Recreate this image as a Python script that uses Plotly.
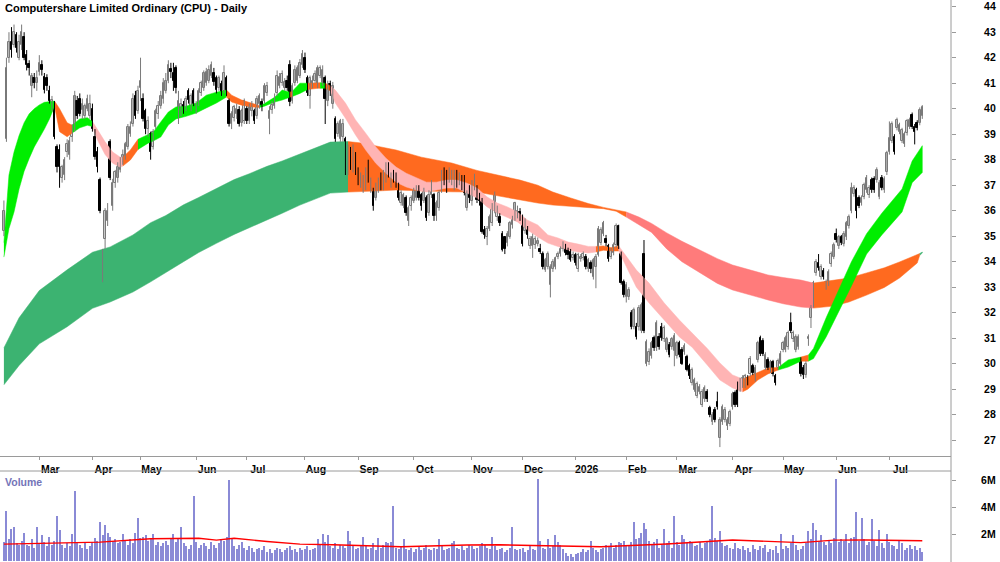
import pandas as pd
import plotly.graph_objects as go

TITLE = "Computershare Limited Ordinary (CPU) - Daily"
START_DATE = "2025-02-11"
END_DATE = "2026-07-20"
HOLIDAYS = ["2025-04-18", "2025-04-21", "2025-04-25", "2025-06-09", "2025-12-25", "2025-12-26",
            "2026-01-01", "2026-01-26", "2026-04-03", "2026-04-06", "2026-06-08"]
MONTH_LABELS = ["Mar", "Apr", "May", "Jun", "Jul", "Aug", "Sep", "Oct", "Nov", "Dec",
                "2026", "Feb", "Mar", "Apr", "May", "Jun", "Jul"]
PRICE_TICKS = [27, 28, 29, 30, 31, 32, 33, 34, 35, 36, 37, 38, 39, 40, 41, 42, 43, 44]
VOLUME_TICKS = [2, 4, 6]
VOLUME_TICK_LABELS = ["2M", "4M", "6M"]

OPEN = [
    35.2, 38.8, 42.0, 42.6, 42.5, 42.9, 42.0, 42.5, 42.8, 42.1,
    41.75, 40.9, 41.2, 41.0, 41.45, 41.7, 41.25, 41.2, 40.7, 40.0,
    40.2, 38.5, 38.4, 37.3, 37.4, 38.3, 38.2, 38.9, 39.2, 40.3,
    40.4, 39.95, 39.7, 40.0, 39.7, 40.0, 38.9, 38.3, 37.2, 33.5,
    34.9, 35.6, 38.7, 36.2, 37.1, 37.3, 37.6, 37.9, 38.1, 38.5,
    39.0, 39.4, 40.5, 39.9, 40.8, 40.4, 39.9, 39.2, 39.0, 38.5,
    39.3, 39.8, 40.1, 40.4, 40.7, 41.1, 41.55, 41.4, 41.6, 39.8,
    39.9, 40.15, 40.0, 40.7, 40.05, 40.7, 40.0, 40.2, 40.6, 40.8,
    41.0, 41.1, 41.3, 41.4, 41.2, 40.8, 40.95, 40.7, 41.2, 40.3,
    39.4, 39.65, 39.8, 39.95, 39.45, 39.5, 40.0, 39.5, 39.9, 39.9,
    39.7, 40.2, 40.25, 40.3, 40.6, 39.6, 39.95, 40.1, 40.6, 40.9,
    41.0, 40.8, 41.1, 41.7, 40.3, 41.0, 41.1, 41.3, 41.7, 42.0,
    41.2, 40.5, 40.9, 41.1, 40.9, 41.3, 41.0, 41.2, 40.3, 40.95,
    40.2, 39.6, 39.0, 38.8, 38.9, 38.8, 37.6, 38.3, 37.7, 38.1,
    37.5, 37.0, 36.9, 36.9, 37.85, 36.8, 36.8, 36.5, 36.8, 37.4,
    36.9, 37.2, 37.7, 37.0, 37.5, 37.4, 37.0, 36.3, 36.2, 36.5,
    35.6, 36.2, 36.4, 36.5, 36.85, 36.6, 36.4, 36.5, 35.9, 36.6,
    36.6, 35.8, 36.1, 36.8, 37.5, 37.4, 37.2, 37.1, 36.9, 37.4,
    37.2, 37.3, 37.3, 36.1, 36.9, 36.4, 36.9, 36.93, 36.5, 36.42,
    35.25, 34.95, 35.3, 35.5, 36.0, 35.75, 35.75, 35.1, 34.95, 34.75,
    34.95, 35.45, 35.7, 35.85, 35.95, 35.75, 35.2, 35.25, 34.6, 34.6,
    34.65, 34.7, 34.5, 34.3, 33.67, 33.8, 33.1, 33.7, 33.8, 34.2,
    34.3, 34.5, 34.6, 34.45, 34.4, 34.15, 34.25, 33.7, 34.1, 34.15,
    34.2, 33.7, 33.95, 33.4, 33.8, 34.25, 34.75, 35.1, 34.9, 34.6,
    34.2, 34.35, 34.65, 35.4, 34.3, 33.2, 32.6, 32.6, 32.0, 31.45,
    31.45, 31.45, 31.3, 34.3, 30.0, 30.05, 30.3, 31.0, 30.6, 31.05,
    31.45, 30.95, 30.55, 30.75, 30.65, 30.5, 30.3, 30.8, 30.55, 30.45,
    30.25, 29.9, 29.25, 28.97, 28.75, 28.9, 28.4, 28.6, 28.9, 28.25,
    27.7, 28.2, 28.5, 27.1, 27.7, 27.8, 27.55, 27.65, 28.3, 28.85,
    29.2, 28.97, 29.15, 29.15, 29.45, 29.6, 29.9, 29.4, 30.15, 31.0,
    30.9, 29.85, 30.15, 29.75, 30.05, 29.5, 29.85, 30.0, 30.55, 30.55,
    30.65, 31.6, 30.95, 30.55, 30.65, 30.15, 29.85, 29.55, 30.95, 31.8,
    32.3, 33.55, 33.95, 33.4, 33.65, 33.0, 33.15, 33.9, 34.2, 35.1,
    34.6, 34.95, 34.7, 34.95, 35.4, 36.0, 36.65, 36.8, 36.5, 36.3,
    36.55, 36.8, 36.6, 37.2, 37.25, 37.2, 36.55, 37.3, 36.8, 37.5,
    38.3, 38.75, 38.9, 39.25, 39.1, 38.75, 38.6, 39.05, 39.3, 39.75,
    39.3, 39.45, 39.45, 39.7,
]
HIGH = [
    36.4, 42.0, 43.0, 43.2, 43.3, 43.0, 42.9, 43.3, 43.0, 42.3,
    41.9, 41.4, 41.4, 41.5, 42.1, 41.9, 41.4, 41.35, 40.9, 40.5,
    40.3, 38.6, 38.6, 37.8, 38.1, 38.8, 38.9, 39.4, 40.7, 40.5,
    40.6, 40.4, 40.2, 40.55, 40.55, 40.2, 39.2, 38.5, 37.3, 34.5,
    36.1, 36.3, 38.8, 37.25, 37.6, 37.9, 38.1, 38.4, 38.7, 39.4,
    39.5, 40.6, 40.7, 40.9, 42.0, 40.6, 40.0, 39.7, 39.1, 39.2,
    40.0, 40.3, 40.7, 41.2, 41.4, 41.9, 41.8, 41.8, 41.7, 40.7,
    40.4, 40.3, 40.5, 40.8, 40.6, 40.8, 40.3, 40.8, 41.1, 41.5,
    41.6, 41.7, 41.85, 41.6, 41.3, 41.3, 41.1, 41.7, 41.3, 40.4,
    39.9, 40.15, 40.2, 40.1, 40.0, 40.4, 40.1, 40.2, 40.3, 40.0,
    40.5, 40.6, 40.4, 41.0, 41.05, 40.1, 40.3, 40.6, 41.5, 41.4,
    41.5, 41.2, 41.3, 41.9, 41.0, 41.7, 41.7, 41.95, 42.3, 42.2,
    41.3, 41.3, 41.3, 41.5, 41.7, 41.7, 41.7, 41.3, 41.1, 41.1,
    41.05, 39.7, 39.5, 39.6, 39.6, 38.9, 38.6, 38.5, 38.6, 38.3,
    37.7, 37.5, 37.4, 37.7, 38.0, 37.3, 36.9, 37.1, 37.3, 37.5,
    37.6, 37.9, 37.9, 37.5, 37.6, 37.5, 37.1, 36.8, 36.7, 36.6,
    36.2, 36.6, 36.9, 37.0, 37.0, 36.7, 36.9, 36.6, 36.8, 37.2,
    36.7, 36.4, 36.8, 37.6, 37.7, 37.6, 37.7, 37.6, 37.6, 37.6,
    37.5, 37.4, 37.4, 36.8, 37.0, 37.2, 37.45, 37.0, 36.7, 36.5,
    35.4, 35.4, 35.85, 36.3, 36.75, 36.2, 35.9, 35.2, 35.0, 35.2,
    35.6, 35.8, 36.35, 36.2, 36.1, 35.85, 35.7, 35.4, 35.0, 35.1,
    35.0, 34.95, 34.7, 34.4, 34.15, 34.4, 33.9, 34.1, 34.2, 34.4,
    34.6, 34.8, 34.7, 34.55, 34.5, 34.4, 34.35, 34.35, 34.3, 34.4,
    34.3, 34.15, 34.05, 34.15, 34.3, 35.4, 35.35, 35.6, 35.05, 34.7,
    34.55, 34.75, 35.5, 35.45, 34.4, 33.3, 33.2, 33.0, 32.1, 32.2,
    31.6, 32.3, 32.4, 34.85, 30.95, 30.6, 30.9, 31.1, 31.7, 31.2,
    31.6, 31.5, 31.05, 30.85, 31.05, 31.2, 30.9, 30.9, 30.65, 30.8,
    30.35, 30.0, 29.85, 29.45, 29.3, 29.2, 29.0, 29.15, 29.0, 28.35,
    28.1, 28.3, 28.9, 27.9, 28.4, 28.3, 27.9, 28.2, 28.9, 28.95,
    29.3, 29.45, 29.55, 29.6, 29.55, 30.3, 30.0, 29.95, 30.9, 31.1,
    31.0, 30.45, 30.25, 30.15, 30.15, 29.6, 30.2, 30.5, 30.9, 31.1,
    31.3, 32.0, 31.3, 31.15, 31.15, 30.25, 29.95, 30.1, 31.15, 32.3,
    33.25, 34.1, 34.3, 33.9, 33.75, 33.3, 33.7, 34.4, 34.75, 35.3,
    35.05, 35.05, 35.2, 35.6, 35.85, 37.1, 37.0, 36.9, 36.6, 36.6,
    37.1, 37.4, 37.0, 37.3, 37.35, 37.7, 37.2, 37.4, 37.35, 38.35,
    39.5, 39.5, 39.0, 39.65, 39.45, 39.25, 39.1, 39.6, 39.65, 39.85,
    39.4, 39.55, 40.05, 40.14,
]
LOW = [
    35.0, 38.7, 41.8, 42.0, 42.4, 42.2, 41.9, 42.3, 41.9, 41.5,
    41.3, 40.45, 40.8, 40.7, 41.3, 41.3, 40.6, 40.7, 40.2, 39.9,
    38.8, 37.5, 36.9, 37.1, 37.2, 38.1, 38.0, 38.7, 39.1, 39.6,
    39.7, 39.6, 39.6, 39.9, 39.6, 39.1, 38.0, 37.5, 35.9, 33.2,
    34.5, 35.4, 37.2, 36.0, 36.9, 37.1, 37.5, 37.8, 38.0, 38.4,
    38.9, 39.3, 39.6, 39.8, 40.3, 39.5, 39.0, 38.9, 38.0, 38.4,
    39.2, 39.6, 40.0, 40.2, 40.6, 41.0, 41.2, 40.7, 40.6, 39.4,
    39.7, 39.8, 39.9, 40.2, 39.9, 40.1, 39.8, 40.1, 40.5, 40.7,
    40.9, 41.0, 41.2, 40.9, 40.6, 40.7, 40.5, 40.6, 40.5, 39.3,
    39.2, 39.5, 39.6, 39.3, 39.3, 39.4, 39.4, 39.4, 39.7, 39.4,
    39.6, 40.0, 39.9, 40.2, 40.5, 39.0, 39.8, 40.0, 40.5, 40.8,
    40.9, 40.7, 40.7, 40.1, 40.2, 40.9, 41.0, 41.2, 41.6, 41.4,
    40.5, 40.0, 40.8, 41.0, 40.8, 41.2, 40.9, 39.4, 40.1, 40.5,
    40.0, 38.7, 38.9, 38.7, 38.7, 37.4, 37.4, 37.6, 37.5, 37.4,
    37.0, 36.9, 36.7, 36.8, 37.1, 36.7, 36.0, 36.4, 36.7, 36.8,
    36.8, 37.1, 37.3, 36.9, 37.1, 36.9, 36.4, 36.2, 36.1, 35.8,
    35.4, 36.0, 36.3, 36.4, 36.4, 36.0, 36.3, 35.6, 35.8, 36.5,
    35.6, 35.6, 36.0, 36.7, 37.0, 36.7, 37.1, 37.0, 36.8, 36.9,
    37.0, 36.8, 36.6, 36.0, 36.3, 36.2, 36.8, 36.3, 36.2, 35.1,
    34.9, 34.65, 35.2, 35.4, 35.9, 35.6, 35.4, 34.4, 34.3, 34.6,
    34.9, 35.3, 35.6, 35.7, 35.6, 34.6, 35.1, 34.9, 34.5, 34.15,
    34.5, 34.6, 34.3, 33.7, 33.6, 33.7, 32.6, 33.6, 33.7, 34.1,
    34.2, 34.4, 34.25, 34.1, 34.0, 34.05, 33.85, 33.6, 34.0, 34.05,
    33.7, 33.6, 33.55, 33.3, 32.96, 34.2, 34.65, 35.0, 34.6, 34.0,
    34.1, 34.25, 34.55, 34.5, 33.1, 32.6, 32.4, 32.5, 31.35, 31.35,
    30.95, 31.3, 31.2, 31.2, 29.9, 29.95, 30.2, 30.5, 30.5, 30.55,
    30.9, 30.85, 30.45, 30.25, 30.55, 29.9, 30.2, 30.25, 29.95, 30.35,
    29.7, 29.4, 29.15, 28.9, 28.65, 28.8, 28.3, 28.5, 28.5, 27.9,
    27.6, 27.7, 28.2, 26.73, 27.6, 27.7, 27.4, 27.55, 28.2, 28.3,
    28.3, 28.9, 29.05, 29.05, 29.15, 29.5, 29.55, 29.3, 30.05, 30.3,
    30.3, 29.75, 29.75, 29.65, 29.5, 29.15, 29.75, 29.9, 30.45, 30.45,
    30.55, 31.2, 30.85, 30.45, 30.55, 29.5, 29.4, 29.45, 30.7, 31.4,
    32.2, 33.45, 33.65, 33.3, 33.3, 32.9, 33.05, 33.8, 34.1, 34.75,
    34.5, 34.65, 34.6, 34.85, 35.3, 35.9, 36.55, 35.7, 36.1, 36.2,
    36.45, 36.7, 36.5, 36.7, 36.7, 37.1, 36.45, 36.8, 36.7, 37.4,
    38.2, 38.65, 38.2, 39.15, 39.0, 38.65, 38.5, 38.95, 39.2, 39.2,
    38.6, 39.15, 39.35, 39.6,
]
CLOSE = [
    36.0, 41.6, 42.6, 42.3, 43.0, 42.4, 42.6, 43.0, 42.0, 41.7,
    41.6, 41.3, 41.0, 41.2, 41.8, 41.5, 40.75, 40.9, 40.3, 40.35,
    38.9, 37.7, 37.7, 37.7, 38.0, 38.6, 38.75, 39.3, 40.5, 39.7,
    39.8, 40.2, 40.1, 40.4, 40.2, 39.2, 38.1, 37.7, 36.0, 34.4,
    36.0, 36.0, 37.3, 37.1, 37.5, 37.7, 38.0, 38.2, 38.6, 39.3,
    39.3, 40.4, 39.7, 40.7, 41.1, 39.6, 39.2, 39.5, 38.3, 39.1,
    39.9, 40.1, 40.5, 41.0, 41.1, 41.7, 41.45, 41.1, 40.8, 40.3,
    40.2, 39.95, 40.4, 40.35, 40.5, 40.2, 40.15, 40.7, 41.0, 41.4,
    41.45, 41.5, 41.7, 41.05, 40.75, 41.2, 40.6, 41.4, 40.65, 39.4,
    39.8, 40.05, 40.0, 39.4, 39.9, 40.3, 39.5, 40.05, 40.1, 39.5,
    40.4, 40.5, 40.05, 40.9, 40.9, 39.9, 40.15, 40.4, 41.3, 41.25,
    41.35, 41.05, 40.8, 40.25, 40.9, 41.5, 41.6, 41.8, 42.15, 41.5,
    40.6, 41.2, 41.1, 41.35, 41.6, 41.6, 41.5, 40.4, 40.9, 40.8,
    40.9, 38.8, 39.4, 39.5, 39.4, 37.5, 38.4, 37.8, 38.2, 37.6,
    37.2, 37.3, 37.3, 37.6, 37.2, 37.2, 36.2, 37.0, 37.1, 36.9,
    37.4, 37.8, 37.45, 37.4, 37.25, 37.0, 36.5, 36.7, 36.6, 35.9,
    36.1, 36.5, 36.8, 36.9, 36.5, 36.2, 36.8, 35.7, 36.6, 37.05,
    35.8, 36.3, 36.7, 37.5, 37.1, 36.8, 37.55, 37.4, 37.5, 37.1,
    37.4, 36.9, 36.7, 36.7, 36.5, 37.1, 37.3, 36.42, 36.4, 35.16,
    35.05, 35.3, 35.75, 36.1, 36.7, 36.1, 35.5, 34.45, 34.5, 35.1,
    35.5, 35.7, 36.3, 36.0, 35.7, 34.7, 35.6, 35.05, 34.9, 34.95,
    34.9, 34.8, 34.4, 33.8, 34.05, 34.3, 33.8, 34.0, 34.15, 34.3,
    34.5, 34.65, 34.35, 34.25, 34.07, 34.25, 33.95, 34.25, 34.2, 34.3,
    33.8, 34.05, 33.7, 34.05, 34.2, 35.3, 35.25, 35.5, 34.75, 34.1,
    34.45, 34.65, 35.4, 34.6, 33.16, 32.7, 33.1, 32.9, 31.45, 32.1,
    31.05, 32.2, 32.3, 31.3, 30.85, 30.45, 30.8, 30.6, 31.6, 30.65,
    31.0, 31.4, 30.95, 30.35, 30.95, 31.1, 30.8, 30.35, 30.0, 30.7,
    29.75, 29.5, 29.75, 29.35, 29.2, 29.1, 28.9, 29.05, 28.6, 28.0,
    28.0, 27.8, 28.3, 27.8, 28.3, 28.2, 27.8, 28.1, 28.8, 28.4,
    28.4, 29.35, 29.45, 29.5, 29.25, 30.2, 29.65, 29.85, 30.8, 30.4,
    30.4, 30.35, 29.85, 30.05, 29.6, 29.25, 30.1, 30.4, 30.8, 31.0,
    31.2, 31.3, 31.2, 31.05, 31.05, 29.6, 29.55, 30.0, 31.05, 32.2,
    33.16, 34.0, 33.75, 33.8, 33.4, 33.2, 33.6, 34.3, 34.65, 34.85,
    34.95, 34.75, 35.1, 35.5, 35.75, 36.9, 36.9, 36.0, 36.2, 36.5,
    37.0, 37.3, 36.9, 36.8, 36.8, 37.6, 37.1, 36.9, 37.25, 38.25,
    38.85, 39.4, 38.3, 39.55, 39.35, 39.15, 39.0, 39.5, 39.55, 39.3,
    39.1, 39.25, 39.95, 40.07,
]
# volume in millions of shares
VOLUME = [
    1.4, 3.7, 1.6, 2.4, 2.5, 1.3, 1.2, 1.5, 2.1, 1.2,
    1.1, 1.6, 1.0, 2.5, 1.3, 1.9, 1.4, 1.1, 1.8, 1.2,
    1.5, 3.3, 2.3, 1.2, 1.0, 1.3, 1.1, 2.0, 5.2, 1.4,
    1.2, 1.0, 1.3, 0.9, 1.1, 1.4, 1.7, 1.5, 2.9, 1.9,
    2.7, 2.1, 1.8, 1.5, 1.6, 1.3, 1.4, 2.0, 1.5, 1.2,
    1.6, 1.3, 2.1, 3.2, 1.7, 1.8, 1.9, 1.5, 1.6, 2.0,
    1.2, 1.4, 1.1, 1.3, 1.5, 1.2, 1.7, 2.0, 1.4, 1.6,
    2.5, 1.3, 1.1, 0.9, 1.2, 4.8, 1.4, 1.0, 1.2, 1.3,
    1.1, 0.9, 1.4, 1.2, 1.0, 1.3, 1.6, 1.5, 1.8, 6.0,
    1.6, 1.1, 0.9, 1.2, 1.4, 1.0, 0.8, 1.1, 1.0, 0.7,
    0.9, 1.0, 0.8, 1.1, 0.7, 0.9, 0.6, 0.8, 1.0, 0.9,
    0.7, 0.8, 1.0, 1.1, 0.8, 0.9, 0.7, 1.0, 0.8, 0.9,
    1.1, 0.8, 0.9, 1.0, 1.6, 1.2, 2.0, 1.4, 1.9, 1.1,
    1.0, 1.3, 0.9, 1.2, 1.1, 1.0, 2.2, 1.5, 1.1, 0.9,
    1.0, 1.2, 1.8, 1.1, 0.9, 1.0, 1.3, 0.8, 1.7, 1.0,
    1.2, 1.4, 1.3, 1.4, 4.1, 1.0, 0.9, 1.1, 1.6, 0.9,
    0.8, 1.0, 0.7, 0.9, 1.1, 0.8, 1.0, 1.2, 0.9, 0.8,
    1.0, 0.9, 1.6, 1.1, 0.8, 0.9, 1.0, 1.3, 1.5, 1.0,
    0.9, 1.1, 0.8, 1.0, 1.2, 1.1, 0.9, 1.0, 1.1, 1.3,
    1.2, 1.0, 0.9, 1.8, 1.1, 0.8, 0.9, 1.0, 0.7, 0.8,
    1.0, 2.5, 0.9, 0.8, 0.9, 1.0, 0.7, 0.8, 1.1, 0.9,
    0.8, 6.1, 1.5, 1.0, 0.9, 1.6, 1.0, 1.1, 1.9, 1.4,
    1.2, 0.9, 0.6, 0.4, 0.5, 0.3, 0.5, 0.6, 0.7, 0.9,
    0.7, 0.8, 1.5, 1.0, 0.8, 0.7, 0.9, 1.0, 1.2, 1.1,
    1.3, 1.0, 1.2, 1.4, 1.3, 1.5, 1.2, 1.1, 1.4, 2.9,
    1.6, 1.7, 2.1, 2.8, 2.4, 1.5, 1.2, 1.4, 1.6, 1.0,
    1.2, 2.4, 1.3, 1.5, 1.0, 3.3, 1.4, 1.2, 1.9, 1.6,
    1.3, 1.5, 1.4, 1.1, 1.2, 1.4, 1.0, 1.3, 1.5, 1.6,
    4.1, 1.7, 1.5, 2.2, 1.3, 1.1, 1.2, 1.0, 0.9, 1.3,
    1.0, 0.9, 1.1, 0.8, 1.0, 0.7, 1.2, 0.9, 0.8, 1.1,
    1.0, 1.2, 0.7, 0.9, 0.8, 1.1, 0.6, 2.0, 0.9, 1.1,
    1.0, 1.3, 1.9, 1.2, 0.8, 0.9, 1.1, 1.3, 2.2, 1.6,
    2.8, 2.3, 1.5, 1.9, 1.4, 1.2, 1.5, 1.3, 1.7, 6.1,
    1.4, 1.6, 1.5, 2.0, 1.3, 1.7, 1.8, 3.6, 1.5, 3.2,
    1.6, 1.2, 1.4, 3.1, 1.5, 1.1, 2.3, 1.3, 1.0, 2.0,
    1.4, 1.2, 1.1, 0.9, 1.5, 1.3, 0.8, 1.0, 1.2, 0.9,
    1.1, 0.8, 1.0, 0.7,
]
# red volume average line, read at sample bars
VOL_MA_IDX = [0, 20, 38, 58, 77, 84, 91, 104, 117, 130, 157, 183, 196, 209, 236, 262, 288, 315, 328, 341, 363]
VOL_MA = [1.25, 1.3, 1.4, 1.65, 1.68, 1.55, 1.68, 1.45, 1.25, 1.2, 1.06, 1.19, 1.2, 1.15, 1.06, 1.26, 1.56, 1.36, 1.55, 1.56, 1.5]

# short-term moving-average ribbon (two edges), state applies from this sample to the next
FAST_IDX = [0, 2, 4, 6, 8, 10, 12, 14, 16, 18,
            20, 22, 25, 27, 30, 33, 35, 37, 40, 43,
            46, 47, 50, 53, 57, 59, 62, 65, 68, 72,
            76, 80, 84, 88, 90, 94, 98, 101, 103, 107,
            110, 113, 114, 117, 120, 124, 125, 127, 129, 131,
            135, 139, 143, 147, 151, 155, 159, 163, 167, 171,
            175, 179, 183, 187, 191, 195, 199, 203, 207, 211,
            215, 219, 223, 227, 231, 234, 237, 240, 243, 246,
            250, 255, 261, 267, 272, 278, 283, 288, 292, 294,
            298, 302, 306, 310, 315, 318, 320, 325, 330, 335,
            341, 347, 355, 359, 363]
FAST_A = [34.75, 37.4, 38.3, 38.95, 39.45, 39.8, 40.0, 40.15, 40.25, 40.28,
          40.3, 40.0, 39.45, 39.35, 39.6, 39.65, 39.5, 39.16, 38.7, 38.3,
          38.1, 38.1, 38.38, 38.8, 39.0, 39.08, 39.48, 39.87, 40.07, 40.1,
          40.22, 40.53, 40.65, 40.73, 40.53, 40.34, 40.22, 40.12, 40.2, 40.45,
          40.73, 40.65, 40.68, 41.0, 41.0, 41.0, 41.02, 41.0, 40.9, 40.73,
          40.22, 39.56, 39.04, 38.5, 38.06, 37.71, 37.47, 37.28, 37.12, 37.12,
          37.2, 37.2, 37.08, 36.89, 36.54, 36.3, 36.15, 35.95, 35.63, 35.44,
          35.05, 34.93, 34.77, 34.69, 34.6, 34.6, 34.62, 34.55, 34.62, 34.2,
          33.67, 33.16, 32.38, 31.71, 31.2, 30.6, 30.03, 29.56, 29.4, 29.48,
          29.67, 29.83, 29.85, 30.15, 30.26, 30.34, 30.6, 31.8, 32.9, 34.0,
          35.1, 35.9, 36.85, 37.95, 38.55]
FAST_B = [34.18, 35.3, 35.95, 36.85, 37.55, 38.05, 38.5, 38.85, 39.2, 39.6,
          40.1, 39.1, 38.9, 39.05, 39.25, 39.35, 39.3, 38.77, 38.2, 37.86,
          37.7, 37.75, 37.99, 38.4, 38.65, 38.73, 38.89, 39.36, 39.6, 39.7,
          39.83, 40.03, 40.22, 40.46, 40.26, 40.14, 40.07, 40.05, 40.1, 40.26,
          40.34, 40.45, 40.48, 40.6, 40.75, 40.8, 40.8, 40.8, 40.7, 40.22,
          39.63, 38.97, 38.38, 37.86, 37.47, 37.12, 36.93, 36.81, 36.73, 36.81,
          36.89, 36.89, 36.69, 36.5, 36.15, 35.91, 35.75, 35.56, 35.24, 34.97,
          34.73, 34.58, 34.46, 34.38, 34.34, 34.38, 34.45, 34.42, 34.42, 33.8,
          33.0, 32.38, 31.71, 31.05, 30.65, 29.95, 29.36, 29.05, 28.9, 29.0,
          29.36, 29.6, 29.75, 29.87, 30.1, 30.1, 30.2, 31.05, 32.05, 33.05,
          34.3, 35.05, 35.95, 37.1, 37.5]
FAST_STATE = ["up", "up", "up", "up", "up", "up", "up", "up", "up", "up",
              "mixed", "mixed", "mixed", "up", "up", "up", "down", "down", "down", "down",
              "down", "mixed", "mixed", "up", "up", "up", "up", "up", "up", "up",
              "up", "up", "up", "mixed", "mixed", "mixed", "mixed", "up", "up", "up",
              "up", "mixed", "up", "up", "mixed", "mixed", "up", "mixed", "down", "down",
              "down", "down", "down", "down", "down", "down", "down", "down", "down", "down",
              "down", "down", "down", "down", "down", "down", "down", "down", "down", "down",
              "down", "down", "down", "down", "down", "mixed", "mixed", "mixed", "down", "down",
              "down", "down", "down", "down", "down", "down", "down", "down", "mixed", "mixed",
              "mixed", "mixed", "up", "up", "mixed", "up", "up", "up", "up", "up",
              "up", "up", "up", "up", "up"]

# long-term moving-average ribbon
SLOW_IDX = [0, 6, 14, 25, 35, 42, 51, 58, 64, 71,
            77, 84, 91, 97, 104, 110, 117, 124, 129, 136,
            142, 149, 155, 165, 177, 187, 197, 204, 211, 217,
            224, 231, 237, 242, 246, 251, 256, 262, 268, 275,
            282, 288, 295, 302, 308, 315, 320, 328, 334, 341,
            348, 354, 361, 362, 363]
SLOW_A = [30.62, 31.8, 32.87, 33.68, 34.37, 34.58, 35.05, 35.53, 35.81, 36.23,
          36.52, 36.88, 37.22, 37.45, 37.74, 37.95, 38.22, 38.48, 38.69, 38.71,
          38.65, 38.5, 38.38, 38.1, 37.87, 37.58, 37.36, 37.2, 37.0, 36.73,
          36.5, 36.28, 36.13, 36.03, 35.95, 35.75, 35.5, 35.13, 34.8, 34.46,
          34.12, 33.87, 33.66, 33.48, 33.38, 33.28, 33.16, 33.28, 33.36, 33.56,
          33.76, 33.99, 34.26, 34.32, 34.38]
SLOW_B = [29.17, 29.93, 30.78, 31.45, 32.17, 32.42, 32.81, 33.21, 33.57, 34.0,
          34.36, 34.72, 35.07, 35.31, 35.64, 35.9, 36.22, 36.5, 36.69, 36.73,
          36.74, 36.78, 36.81, 36.78, 36.74, 36.73, 36.54, 36.42, 36.3, 36.22,
          36.15, 36.12, 36.08, 35.98, 35.75, 35.45, 35.15, 34.5, 34.0, 33.56,
          33.15, 32.89, 32.68, 32.5, 32.35, 32.22, 32.18, 32.26, 32.42, 32.69,
          32.99, 33.36, 33.95, 34.25, 34.34]
SLOW_STATE = ["up", "up", "up", "up", "up", "up", "up", "up", "up", "up",
              "up", "up", "up", "up", "up", "up", "up", "up", "up", "mixed",
              "mixed", "mixed", "mixed", "mixed", "mixed", "mixed", "mixed", "mixed", "mixed", "mixed",
              "mixed", "mixed", "mixed", "mixed", "down", "down", "down", "down", "down", "down",
              "down", "down", "down", "down", "down", "down", "mixed", "mixed", "mixed", "mixed",
              "mixed", "mixed", "mixed", "up", "up"]

FAST_COLORS = {"up": "#00ee00", "mixed": "#ff6a1f", "down": "#ffb4b4"}
SLOW_COLORS = {"up": "#3cb371", "mixed": "#ff6a1f", "down": "#ff7b7b"}
UP_EDGE, UP_FILL = "#7a7a7a", "#ffffff"
DOWN_EDGE, DOWN_FILL = "#000000", "#000000"

# ---------------------------------------------------------------
W, H = 1000, 562
PLOT_RIGHT = 951          # px, right edge of plotting area
PRICE_BOTTOM = 456        # px
VOL_TOP = 472             # px
BAR_PX = 2.53             # px per trading day
FIRST_PX = 3.9            # px of first bar

dates = pd.bdate_range(START_DATE, END_DATE)
dates = dates[~dates.isin(pd.to_datetime(HOLIDAYS))]
n = len(CLOSE)
xs = list(range(n))
tick_idx = [i for i in range(1, len(dates)) if dates[i].month != dates[i - 1].month]

x_min = -FIRST_PX / BAR_PX
x_max = x_min + PLOT_RIGHT / BAR_PX

fig = go.Figure()


def add_ribbon(idx, a, b, states, colors):
    j = 0
    m = len(idx)
    while j < m - 1:
        k = j
        while k + 1 < m - 1 and states[k + 1] == states[j]:
            k += 1
        seg = list(range(j, k + 2))
        px = [idx[t] for t in seg]
        pa = [a[t] for t in seg]
        pb = [b[t] for t in seg]
        col = colors[states[j]]
        fig.add_trace(go.Scatter(
            x=px + px[::-1], y=pa + pb[::-1], mode="lines", fill="toself",
            fillcolor=col, line=dict(width=0.5, color=col), hoverinfo="skip",
            showlegend=False, xaxis="x", yaxis="y"))
        j = k + 1


add_ribbon(SLOW_IDX, SLOW_A, SLOW_B, SLOW_STATE, SLOW_COLORS)
add_ribbon(FAST_IDX, FAST_A, FAST_B, FAST_STATE, FAST_COLORS)

# candle wicks (high-low), one trace per colour
rising = [CLOSE[i] >= OPEN[i] for i in xs]
for want, col in ((True, UP_EDGE), (False, DOWN_EDGE)):
    wx, wy = [], []
    for i in xs:
        if rising[i] == want:
            wx += [i, i, None]
            wy += [LOW[i], HIGH[i], None]
    fig.add_trace(go.Scatter(x=wx, y=wy, mode="lines", line=dict(color=col, width=1),
                             hoverinfo="skip", showlegend=False, xaxis="x", yaxis="y"))

# candle bodies (open-close)
fig.add_trace(go.Bar(
    x=xs,
    base=[min(OPEN[i], CLOSE[i]) for i in xs],
    y=[max(abs(CLOSE[i] - OPEN[i]), 0.02) for i in xs],
    width=0.62,
    marker=dict(color=[UP_FILL if r else DOWN_FILL for r in rising],
                line=dict(color=[UP_EDGE if r else DOWN_EDGE for r in rising], width=1)),
    hoverinfo="skip", showlegend=False, xaxis="x", yaxis="y"))

fig.add_trace(go.Bar(
    x=xs, y=VOLUME, width=0.42, marker=dict(color="#8a8ad6", line=dict(width=0)),
    showlegend=False, hoverinfo="skip", xaxis="x2", yaxis="y2"))
fig.add_trace(go.Scatter(
    x=VOL_MA_IDX, y=VOL_MA, mode="lines", line=dict(color="#ff0000", width=1.4),
    showlegend=False, hoverinfo="skip", xaxis="x2", yaxis="y2"))

tick_font = dict(family="Liberation Sans, Arial, sans-serif", size=10.5, color="#000000", weight="bold")
axis_grey = "#9a9a9a"

price_top_val = 44 + 6.7 / 25.5
price_bot_val = 44 - (PRICE_BOTTOM - 6.7) / 25.5
vol_top_val = (561 - VOL_TOP) / 13.5
vol_bot_val = (561 - H) / 13.5

fig.update_layout(
    width=W, height=H,
    margin=dict(l=0, r=W - PLOT_RIGHT, t=0, b=0, pad=0),
    paper_bgcolor="#ffffff", plot_bgcolor="#ffffff",
    showlegend=False, hovermode=False, barmode="overlay", bargap=0,
    xaxis=dict(domain=[0, 1], anchor="y", range=[x_min, x_max],
               tickvals=tick_idx, ticktext=MONTH_LABELS, ticks="outside", ticklen=3,
               tickcolor=axis_grey, showline=True, linecolor=axis_grey, linewidth=1,
               showgrid=False, zeroline=False, tickfont=tick_font, ticklabelshift=11,
               fixedrange=True),
    yaxis=dict(domain=[1 - PRICE_BOTTOM / H, 1], anchor="x", side="right",
               range=[price_bot_val, price_top_val], tickvals=PRICE_TICKS,
               ticks="outside", ticklen=4, tickcolor=axis_grey, showgrid=False,
               zeroline=False, showline=False, tickfont=tick_font, ticklabelstandoff=26),
    xaxis2=dict(domain=[0, 1], anchor="y2", range=[x_min, x_max], matches="x",
                showticklabels=False, ticks="", showgrid=False, zeroline=False, showline=False),
    yaxis2=dict(domain=[0, 1 - VOL_TOP / H], anchor="x2", side="right",
                range=[vol_bot_val, vol_top_val], tickvals=VOLUME_TICKS,
                ticktext=VOLUME_TICK_LABELS, ticks="outside", ticklen=4, tickcolor=axis_grey,
                showgrid=False, zeroline=False, showline=False, tickfont=tick_font,
                ticklabelstandoff=23),
    shapes=[
        dict(type="line", xref="paper", yref="paper", x0=1, x1=1, y0=0, y1=1,
             line=dict(color=axis_grey, width=1)),
        dict(type="line", xref="paper", yref="paper", x0=0, x1=1,
             y0=1 - 471 / H, y1=1 - 471 / H, line=dict(color=axis_grey, width=1)),
    ],
    annotations=[
        dict(text=TITLE, xref="paper", yref="paper", x=0.003, y=1, xanchor="left", yanchor="top",
             showarrow=False, yshift=0,
             font=dict(family="Liberation Sans, Arial", size=11,
                       color="#000000", weight="bold")),
        dict(text="Volume", xref="paper", yref="paper", x=0.003, y=1 - 474 / H,
             xanchor="left", yanchor="top", showarrow=False,
             font=dict(family="Liberation Sans, Arial", size=10.5, color="#7474b8", weight="bold")),
    ],
)

fig.write_html("out.html", post_script="document.body.style.margin='0px';")
